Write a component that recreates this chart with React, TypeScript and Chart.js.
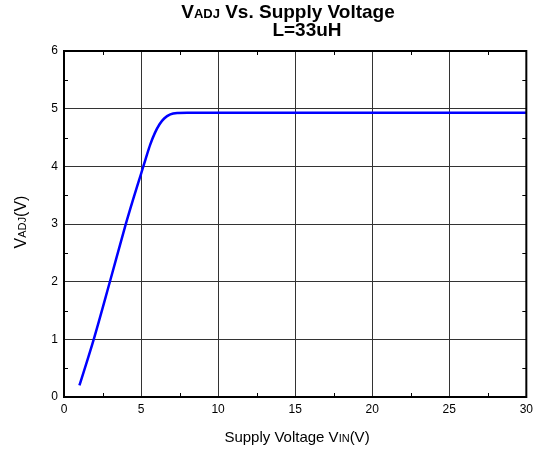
import React, { useEffect, useRef } from "react";
import { Chart, registerables } from "chart.js";

Chart.register(...registerables);

const vinValues = [1.0, 1.93, 3.0, 3.99, 4.5, 5.0, 5.3, 5.6, 5.9, 6.2, 6.5, 6.9, 7.4, 8, 10, 15, 20, 25, 30];
const vadjValues = [0.2, 1.0, 2.02, 2.98, 3.44, 3.87, 4.13, 4.38, 4.58, 4.73, 4.83, 4.9, 4.925, 4.93, 4.93, 4.93, 4.93, 4.93, 4.93];
const xTickValues = [0, 5, 10, 15, 20, 25, 30];
const yTickValues = [0, 1, 2, 3, 4, 5, 6];
const xMinorTicks = [2.5, 7.5, 12.5, 17.5, 22.5, 27.5];
const yMinorTicks = [0.5, 1.5, 2.5, 3.5, 4.5, 5.5];

const FONT = "'Liberation Sans', Arial, sans-serif";

type Seg = { t: string; size: number };

function drawRich(ctx: CanvasRenderingContext2D, segs: Seg[], x: number, y: number, bold: boolean, align: "left" | "center") {
  const w = segs.map((s) => {
    ctx.font = `${bold ? "bold " : ""}${s.size}px ${FONT}`;
    return ctx.measureText(s.t).width;
  });
  const total = w.reduce((a, b) => a + b, 0);
  let cx = align === "center" ? x - total / 2 : x;
  ctx.textBaseline = "alphabetic";
  ctx.textAlign = "left";
  segs.forEach((s, i) => {
    ctx.font = `${bold ? "bold " : ""}${s.size}px ${FONT}`;
    ctx.fillText(s.t, cx, y);
    cx += w[i];
  });
}

const decorPlugin = {
  id: "decor",
  afterDraw(chart: any) {
    const ctx: CanvasRenderingContext2D = chart.ctx;
    const { left, right, top, bottom } = chart.chartArea;
    const xs = chart.scales.x;
    const ys = chart.scales.y;
    ctx.save();
    ctx.strokeStyle = "#000";
    ctx.lineWidth = 1;
    ctx.beginPath();
    xMinorTicks.forEach((v) => {
      const px = Math.round(xs.getPixelForValue(v)) + 0.5;
      ctx.moveTo(px, bottom);
      ctx.lineTo(px, bottom - 4);
      ctx.moveTo(px, top);
      ctx.lineTo(px, top + 4);
    });
    yMinorTicks.forEach((v) => {
      const py = Math.round(ys.getPixelForValue(v)) + 0.5;
      ctx.moveTo(left, py);
      ctx.lineTo(left + 4, py);
      ctx.moveTo(right, py);
      ctx.lineTo(right - 4, py);
    });
    ctx.stroke();
    ctx.lineWidth = 2;
    ctx.strokeRect(left, top, right - left, bottom - top);

    ctx.fillStyle = "#000";
    drawRich(ctx, [
      { t: "V", size: 19 },
      { t: "ADJ", size: 13 },
      { t: " Vs. Supply Voltage", size: 19 },
    ], 288, 18, true, "center");
    drawRich(ctx, [{ t: "L=33uH", size: 19 }], 307, 36, true, "center");

    drawRich(ctx, [
      { t: "Supply Voltage V", size: 15 },
      { t: "IN", size: 11 },
      { t: "(V)", size: 15 },
    ], 297, 442, false, "center");

    ctx.translate(26, 222);
    ctx.rotate(-Math.PI / 2);
    drawRich(ctx, [
      { t: "V", size: 16 },
      { t: "ADJ", size: 11 },
      { t: "(V)", size: 16 },
    ], 0, 0, false, "center");
    ctx.restore();
  },
};

export default function App() {
  const ref = useRef<HTMLCanvasElement | null>(null);
  useEffect(() => {
    document.body.style.margin = "0";
    const canvas = ref.current;
    if (!canvas) return;
    const chart = new Chart(canvas, {
      type: "line",
      data: {
        datasets: [
          {
            data: vinValues.map((x, i) => ({ x, y: vadjValues[i] })),
            borderColor: "#0000ff",
            borderWidth: 2.5,
            pointRadius: 0,
            fill: false,
            cubicInterpolationMode: "monotone",
          },
        ],
      },
      options: {
        animation: false,
        responsive: false,
        layout: { padding: { top: 51, right: 8, left: 0, bottom: 0 } },
        plugins: { legend: { display: false }, tooltip: { enabled: false }, title: { display: false } },
        scales: {
          x: {
            type: "linear",
            min: 0,
            max: 30,
            afterBuildTicks: (s: any) => {
              s.ticks = xTickValues.map((v) => ({ value: v }));
            },
            afterFit: (s: any) => {
              s.height = 55;
            },
            ticks: { color: "#000", font: { family: FONT, size: 12 }, padding: 5, maxRotation: 0 },
            grid: { color: "#333", lineWidth: 1, drawTicks: false, tickLength: 0 },
            border: { display: false },
          },
          y: {
            type: "linear",
            min: 0,
            max: 6,
            afterBuildTicks: (s: any) => {
              s.ticks = yTickValues.map((v) => ({ value: v }));
            },
            afterFit: (s: any) => {
              s.width = 64;
            },
            ticks: { color: "#000", font: { family: FONT, size: 12 }, padding: 6 },
            grid: { color: "#333", lineWidth: 1, drawTicks: false, tickLength: 0 },
            border: { display: false },
          },
        },
      },
      plugins: [decorPlugin],
    } as any);
    return () => chart.destroy();
  }, []);
  return (
    <div style={{ width: 538, height: 452 }}>
      <canvas ref={ref} width={538} height={452} />
    </div>
  );
}
